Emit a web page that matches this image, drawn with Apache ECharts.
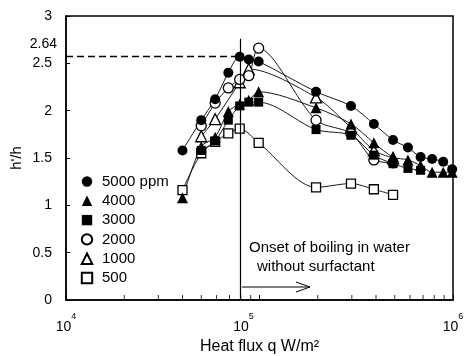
<!DOCTYPE html>
<html>
<head>
<meta charset="utf-8">
<script src="https://cdn.jsdelivr.net/npm/echarts@6.0.0/dist/echarts.min.js"></script>
<style>
html,body{margin:0;padding:0;background:#fff;}
#chart{width:467px;height:356px;}
</style>
</head>
<body>
<div id="chart"></div>
<script>
var FONT = "'Liberation Sans', Arial, Helvetica, sans-serif";

// heat flux q (W/m2) shared by all surfactant concentrations
var qFlux = [4.0e4, 5.0e4, 5.9e4, 6.9e4, 7.9e4, 8.8e4, 9.9e4, 1.96e5, 2.97e5, 3.9e5, 4.9e5, 5.85e5, 6.8e5, 7.8e5, 8.9e5, 9.9e5];
// h'/h for each concentration (null = no point)
var h5000 = [1.58, 1.90, 2.12, 2.40, 2.57, 2.54, 2.52, 2.20, 2.05, 1.86, 1.69, 1.61, 1.51, 1.49, 1.46, 1.38];
var h4000 = [1.08, 1.62, 1.72, 1.99, 2.07, 2.11, 2.20, 2.03, 1.86, 1.66, 1.51, 1.48, 1.42, 1.35, 1.35, 1.35];
var h3000 = [null, 1.58, 1.68, 1.90, 2.05, 2.09, 2.09, 1.80, 1.74, 1.53, 1.44, 1.39, 1.37, null, null, null];
var h2000 = [null, 1.84, 2.08, 2.24, 2.33, 2.37, 2.66, 1.90, 1.76, 1.48, 1.45, null, null, null, null, null];
var h1000 = [null, 1.73, 1.91, null, 2.30, 2.44, null, 2.14, 1.82, 1.58, 1.50, null, null, null, null, null];
var h500  = [1.16, 1.55, 1.67, 1.76, 1.81, null, 1.66, 1.19, 1.23, 1.17, 1.11, null, null, null, null, null];

var legendNames = ['5000 ppm', '4000', '3000', '2000', '1000', '500'];
var minorTicks = [2e4, 3e4, 4e4, 5e4, 6e4, 7e4, 8e4, 9e4, 2e5, 3e5, 4e5, 5e5, 6e5, 7e5, 8e5, 9e5];

var onsetQ = 8.0e4;      // onset of boiling in water
var onsetTop = 2.76;
var peakRatio = 2.577;   // dashed guide
var peakLabel = '2.64';

function pairs(h){
    var out = [];
    for (var i = 0; i < qFlux.length; i++) out.push([qFlux[i], h[i]]);
    return out;
}

function mk(name, h, symbol, size, filled){
    return {
        name: name,
        type: 'line',
        data: pairs(h),
        symbol: symbol,
        symbolSize: size,
        smooth: 0.3,
        connectNulls: true,
        lineStyle: {color: '#000', width: 0.9},
        itemStyle: {
            color: filled ? '#000' : '#fff',
            borderColor: '#000',
            borderWidth: filled ? 0 : 1.3
        },
        emphasis: {disabled: true}
    };
}

var s500 = mk('500', h500, 'rect', 9, false);
var s1000 = mk('1000', h1000, 'triangle', 11, false);
var s2000 = mk('2000', h2000, 'circle', 10, false);
var s3000 = mk('3000', h3000, 'rect', 9, true);
var s4000 = mk('4000', h4000, 'triangle', 11, true);
var s5000 = mk('5000 ppm', h5000, 'circle', 10, true);

s5000.markLine = {
    silent: true,
    symbol: ['none', 'none'],
    label: {show: false},
    animation: false,
    data: [
        [{coord: [onsetQ, 0], lineStyle: {color: '#000', width: 1.2, type: 'solid'}}, {coord: [onsetQ, onsetTop]}],
        [{coord: [1e4, peakRatio], lineStyle: {color: '#000', width: 1.3, type: [7, 4]}}, {coord: [onsetQ, peakRatio]}]
    ]
};

var chart = echarts.init(document.getElementById('chart'));
var option = {
    animation: false,
    backgroundColor: '#fff',
    textStyle: {fontFamily: FONT, color: '#000'},
    grid: {
        left: 66, right: 14, top: 16, bottom: 56,
        show: true, borderColor: '#000', borderWidth: 1.5,
        outerBoundsMode: 'none'
    },
    legend: {
        orient: 'vertical',
        left: 71,
        top: 169,
        itemWidth: 20,
        itemHeight: 13,
        itemGap: 4.3,
        data: legendNames,
        selectedMode: false,
        lineStyle: {opacity: 0},
        textStyle: {fontSize: 15, color: '#000', fontFamily: FONT}
    },
    xAxis: {
        type: 'log',
        logBase: 10,
        min: 1e4,
        max: 1e6,
        axisLine: {show: true, lineStyle: {color: '#000', width: 1.5}},
        axisTick: {show: true, inside: true, length: 5, lineStyle: {color: '#000'}},
        splitLine: {show: false},
        axisLabel: {
            margin: 12,
            formatter: function(v){
                var e = Math.round(Math.log10(v));
                // the middle label sits a little left of its tick in the original
                return '{b|10}{' + (e === 5 ? 'm' : 's') + '|' + e + '}';
            },
            rich: {
                b: {fontSize: 14, lineHeight: 22, verticalAlign: 'bottom', color: '#000', fontFamily: FONT},
                s: {fontSize: 9, lineHeight: 10, verticalAlign: 'top', color: '#000', fontFamily: FONT},
                m: {fontSize: 9, lineHeight: 10, verticalAlign: 'top', color: '#000', fontFamily: FONT, padding: [0, 32, 0, 0]}
            }
        },
        name: 'Heat flux q W/m²',
        nameLocation: 'middle',
        nameGap: 39,
        nameMoveOverlap: false,
        nameTextStyle: {fontSize: 16, color: '#000', fontFamily: FONT}
    },
    yAxis: {
        type: 'value',
        min: 0,
        max: 3,
        interval: 0.5,
        axisLine: {show: true, lineStyle: {color: '#000', width: 1.5}},
        axisTick: {show: true, inside: true, length: 4, lineStyle: {color: '#000'}},
        splitLine: {show: false},
        axisLabel: {color: '#000', fontSize: 14, margin: 14, fontFamily: FONT},
        name: "h'/h",
        nameLocation: 'middle',
        nameRotate: 90,
        nameGap: 42,
        nameMoveOverlap: false,
        nameTextStyle: {fontSize: 15, color: '#000', fontFamily: FONT}
    },
    series: [
        s500, s1000, s2000, s3000, s4000, s5000,
        {
            type: 'scatter',
            data: minorTicks.map(function(q){ return [q, 0]; }),
            symbol: 'rect',
            symbolSize: [1, 5],
            symbolOffset: [0, -2.5],
            itemStyle: {color: '#000'},
            silent: true,
            clip: false
        }
    ],
    graphic: [
        {type: 'text', x: 57, y: 44, style: {text: peakLabel, align: 'right', verticalAlign: 'middle', fill: '#000', font: '14px ' + FONT}},
        {type: 'text', x: 249, y: 240, style: {text: 'Onset of boiling in water', fill: '#000', font: '15px ' + FONT}},
        {type: 'text', x: 257, y: 259, style: {text: 'without surfactant', fill: '#000', font: '15px ' + FONT}},
        {type: 'polyline', shape: {points: [[242, 287], [310, 287]]}, style: {stroke: '#000', lineWidth: 1, fill: null}},
        {type: 'polyline', shape: {points: [[296, 282], [310, 287], [296, 292]]}, style: {stroke: '#000', lineWidth: 1, fill: null}}
    ]
};
chart.setOption(option);
</script>
</body>
</html>
